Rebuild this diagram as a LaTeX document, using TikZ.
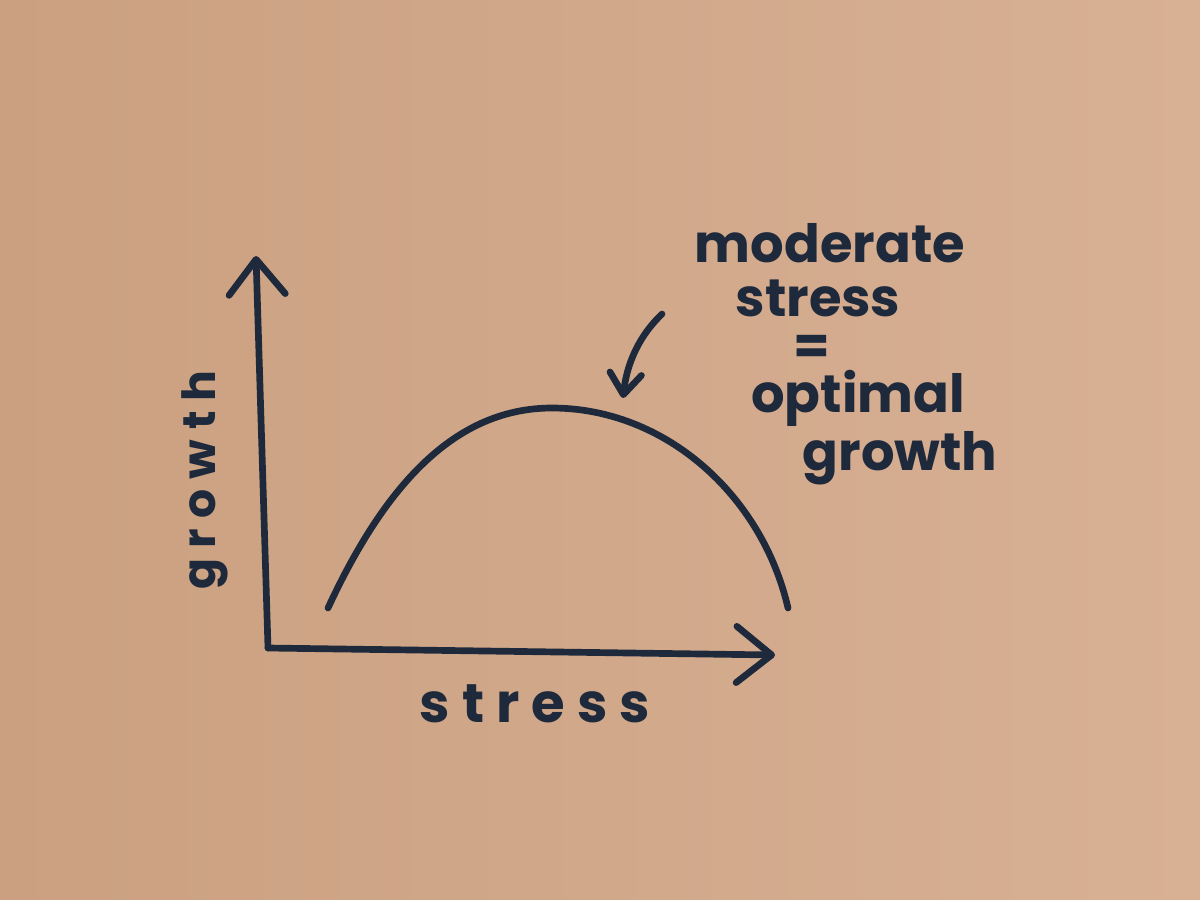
\documentclass[tikz,border=0pt]{standalone}
\usepackage{fontspec}
\setmainfont{Poppins}
\newfontfamily\spacedfont[LetterSpace=22]{Poppins}
\usepackage{xcolor}
\usetikzlibrary{arrows.meta}
\definecolor{paperlight}{RGB}{216,176,148}
\definecolor{paperdark}{RGB}{202,160,128}
\definecolor{ink}{RGB}{30,42,60}
\tikzset{
  pen/.style={ink,line width=1.9pt,line cap=round,line join=round},
  bigtip/.style={-{Straight Barb[length=10pt,width=16pt,round,line width=1.9pt]}},
  smalltip/.style={-{Straight Barb[length=6pt,width=9pt,round,line width=1.9pt]}},
  note/.style={ink,font=\bfseries\fontsize{15}{18}\selectfont,anchor=base,inner sep=0pt}
}

\begin{document}
\begin{tikzpicture}[x=0.01cm,y=-0.01cm]
\shade[left color=paperdark,right color=paperlight] (0,0) rectangle (1200,900);
\useasboundingbox (0,0) rectangle (1200,900);

% axes
\coordinate (o) at (268,648);
\coordinate (ytip) at (256,256);
\coordinate (xtip) at (775,655);
\draw[pen,bigtip] (o) -- (ytip);
\draw[pen,bigtip] (o) -- (xtip);

% curve
\coordinate (cstart) at (328,608);
\coordinate (cpeak) at (552,408);
\coordinate (cend) at (788,608);
\draw[pen] (cstart) .. controls (385,485) and (455,408) .. (cpeak)
  .. controls (665,408) and (762,495) .. (cend);

% axis labels
\node[ink,font=\spacedfont\bfseries\fontsize{15.5}{18}\selectfont,anchor=base,inner sep=0pt] (xlabel) at (535,722) {stress};
\node[ink,font=\spacedfont\bfseries\fontsize{13}{16}\selectfont,rotate=90,inner sep=0pt] (ylabel) at (205,480) {growth};

% note
\node[note] (lmod) at (830,262) {moderate};
\node[note] (lstress) at (818,316) {stress};
\node[note,anchor=center] (leq) at (812,350) {=};
\node[note] (lopt) at (858,412) {optimal};
\node[note] (lgrow) at (900,470) {growth};

\coordinate (astart) at (662,314);
\coordinate (aend) at (623,398);
\draw[pen,smalltip] (astart) .. controls (640,335) and (627,362) .. (aend);
\end{tikzpicture}
\end{document}
